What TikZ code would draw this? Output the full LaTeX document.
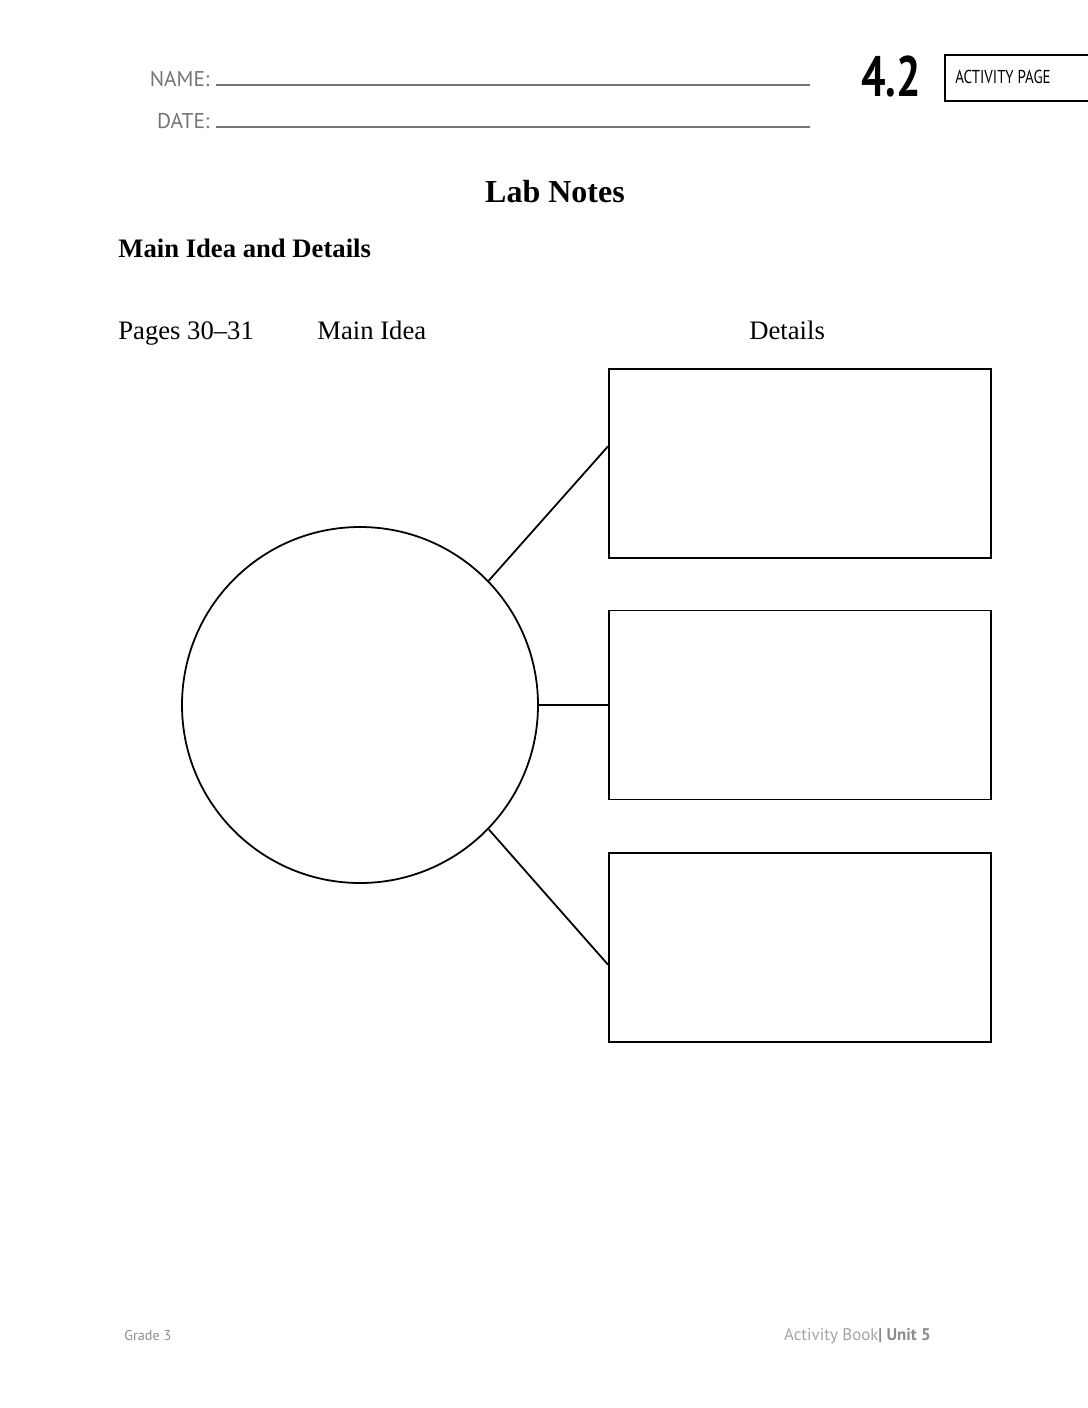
\documentclass[tikz,border=0pt]{standalone}
\usepackage{fontspec}
\setmainfont{Liberation Serif}
\setsansfont{PT Sans}
\usepackage{xcolor}
\usetikzlibrary{positioning, calc}

\definecolor{headgray}{HTML}{747474}
\definecolor{footgray}{HTML}{8C8C8C}
\newcommand{\px}{0.5625pt}

\begin{document}
\begin{tikzpicture}[x=\px, y=-\px,
    detailbox/.style={draw, line width=1.1pt, rectangle, minimum width=382*\px, minimum height=189*\px, inner sep=0pt},
    ideacircle/.style={draw, line width=1pt, circle, minimum size=356*\px, inner sep=0pt},
    link/.style={line width=1pt},
    headlabel/.style={font=\sffamily\fontsize{12}{14}\selectfont, text=headgray, anchor=base east, inner sep=0pt},
    headline/.style={headgray, line width=0.8pt}]
    \useasboundingbox (0,0) rectangle (1088,1408);

    % Header
    \node[headlabel] (namelbl) at (210,87) {NAME:};
    \node[headlabel] (datelbl) at (210,129) {DATE:};
    \draw[headline] (216,85) -- (810,85);
    \draw[headline] (216,127) -- (810,127);
    \node[anchor=base west, inner sep=0pt, font=\sffamily\bfseries\fontsize{32}{34}\selectfont] (num) at (861,97) {\scalebox{0.76}[1]{4.2}};
    \draw[line width=1.1pt] (1090,55) -- (945,55) -- (945,101) -- (1090,101);
    \node[anchor=base west, inner sep=0pt, font=\sffamily\fontsize{10.5}{12}\selectfont] (actpage) at (955,84) {\scalebox{0.8}[1]{ACTIVITY PAGE}};

    % Titles
    \node[anchor=base, inner sep=0pt, font=\bfseries\fontsize{18}{20}\selectfont] (title) at (555,202) {Lab Notes};
    \node[anchor=base west, inner sep=0pt, font=\bfseries\fontsize{15}{18}\selectfont] (subtitle) at (118,257) {Main Idea and Details};
    \node[anchor=base west, inner sep=0pt, font=\fontsize{15}{18}\selectfont] (pages) at (118,339) {Pages 30--31};
    \node[anchor=base west, inner sep=0pt, font=\fontsize{15}{18}\selectfont] (ideahead) at (317,339) {Main Idea};
    \node[anchor=base west, inner sep=0pt, font=\fontsize{15}{18}\selectfont] (detailhead) at (749,339) {Details};

    % Organizer
    \node[ideacircle] (idea) at (360,705) {};
    \node[detailbox] (box1) at (800,463.5) {};
    \node[detailbox] (box2) at (800,705) {};
    \node[detailbox] (box3) at (800,947.5) {};
    \draw[link] (idea.44) -- ($(box1.north west)!0.41!(box1.south west)$);
    \draw[link] (idea.east) -- (box2.west);
    \draw[link] (idea.-44) -- ($(box3.north west)!0.59!(box3.south west)$);

    % Footer
    \node[anchor=base west, inner sep=0pt, text=footgray, font=\sffamily\fontsize{8}{10}\selectfont] (grade) at (124,1340) {Grade 3};
    \node[anchor=base east, inner sep=0pt, font=\sffamily\fontsize{9.5}{12}\selectfont] (book) at (931,1340) {\textcolor{footgray!80}{Activity Book}\textcolor{footgray}{\textbf{| Unit 5}}};
\end{tikzpicture}
\end{document}
